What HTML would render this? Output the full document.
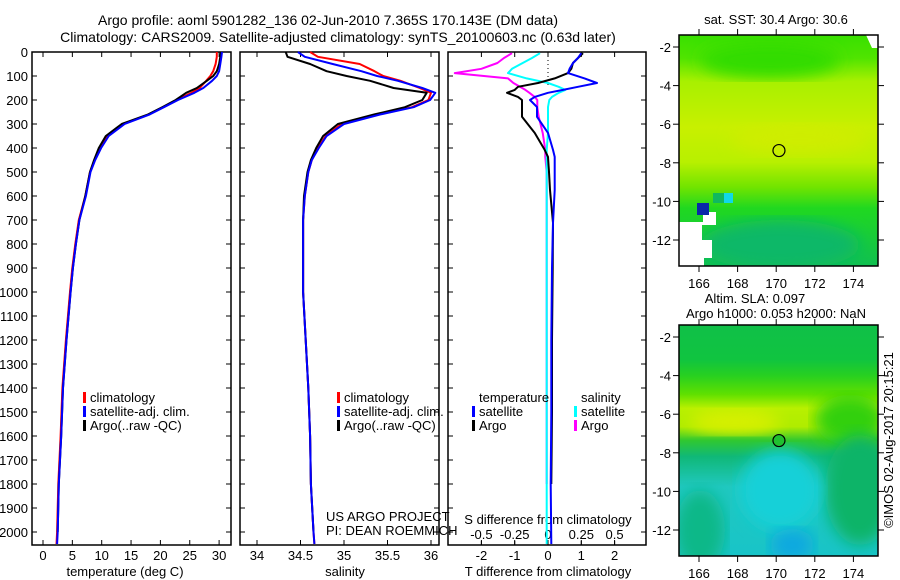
<!DOCTYPE html>
<html><head><meta charset="utf-8"><style>
html,body{margin:0;padding:0;background:#fff;}
svg{display:block;font-family:"Liberation Sans",sans-serif;}
</style></head><body>
<svg id="fig" width="900" height="580" viewBox="0 0 900 580">
<defs>
<linearGradient id="sstG" x1="0" y1="0" x2="0" y2="1">
<stop offset="0" stop-color="#38e000"/><stop offset="0.1" stop-color="#50e400"/>
<stop offset="0.2" stop-color="#a8f000"/><stop offset="0.4" stop-color="#c8f000"/>
<stop offset="0.55" stop-color="#b8f000"/><stop offset="0.66" stop-color="#70e400"/>
<stop offset="0.75" stop-color="#20d820"/><stop offset="1" stop-color="#10c050"/>
</linearGradient>
<linearGradient id="slaG" x1="0" y1="0" x2="0" y2="1">
<stop offset="0" stop-color="#10c048"/><stop offset="0.15" stop-color="#10c440"/>
<stop offset="0.22" stop-color="#28d020"/><stop offset="0.3" stop-color="#60e000"/>
<stop offset="0.36" stop-color="#b8f000"/><stop offset="0.44" stop-color="#b0ec00"/>
<stop offset="0.5" stop-color="#30c830"/><stop offset="0.57" stop-color="#10b878"/>
<stop offset="0.7" stop-color="#20c8c0"/><stop offset="1" stop-color="#18c4c8"/>
</linearGradient>
<filter id="blur6"><feGaussianBlur stdDeviation="8"/></filter>
<clipPath id="m1clip"><rect x="679" y="35" width="199" height="231"/></clipPath>
<clipPath id="m2clip"><rect x="679" y="325" width="199" height="231"/></clipPath>
</defs>
<g id="layer"></g>
</svg>
<script>
// ---- profile data (depth in m) ----
const depths   = [0,20,50,80,100,120,150,170,200,230,260,300,350,400,450,500,600,700,800,900,1000,1200,1400,1600,1800,2000,2050];
const tempClim = [29.6,29.6,29.4,29.0,28.5,27.8,26.7,25.3,22.8,20.5,18.0,13.7,11.0,9.7,8.8,8.0,7.2,6.1,5.5,5.0,4.6,3.9,3.3,3.0,2.6,2.4,2.3];
const tempSat  = [30.5,30.4,30.2,30.0,29.6,28.8,27.3,25.8,23.0,20.6,18.2,13.9,11.2,9.9,8.9,8.1,7.3,6.2,5.6,5.1,4.7,4.0,3.4,3.1,2.7,2.5,2.4];
const tempArgo = [30.3,30.2,30.0,29.6,29.0,27.9,26.2,24.4,22.6,20.3,17.9,13.4,10.7,9.5,8.7,8.0,7.2,6.2,5.6,5.1,4.7,4.0,3.4,3.1,2.7,2.5,null];
const salClim  = [34.61,34.70,35.18,35.35,35.45,35.65,35.87,36.00,35.97,35.78,35.40,34.97,34.79,34.70,34.63,34.59,34.55,34.53,34.53,34.53,34.53,34.56,34.59,34.61,34.62,34.65,34.66];
const salSat   = [34.47,34.55,34.87,35.20,35.38,35.62,35.90,36.05,35.99,35.80,35.42,35.00,34.80,34.71,34.63,34.59,34.55,34.53,34.53,34.53,34.53,34.56,34.59,34.61,34.62,34.65,34.66];
const salArgo  = [34.33,34.35,34.61,34.80,35.03,35.30,35.57,35.95,35.90,35.70,35.35,34.93,34.76,34.68,34.62,34.58,34.54,34.53,34.53,34.53,34.53,34.56,34.59,34.61,34.62,34.65,null];
// ---- difference data ----
const diffDepths = [5,25,46,70,88,110,129,145,158,170,187,200,229,270,337,408,437,500,575,712,900,1200,1500,1800,2050];
const dTSat  = [1.0,0.9,0.75,0.65,0.6,1.1,1.47,0.9,0.45,0.0,-0.4,-0.54,-0.33,-0.33,0.0,0.15,0.2,0.2,0.2,0.15,0.12,0.1,0.1,0.08,0.1];
const dTArgo = [1.05,0.9,0.75,0.7,0.6,0.2,-0.3,-0.9,-1.0,-1.23,-0.9,-0.78,-0.78,-0.78,-0.4,-0.1,0.0,0.03,0.06,0.15,0.14,0.12,0.12,0.1,null];
const dSSat  = [-0.06,-0.12,-0.19,-0.27,-0.3,-0.16,0.0,0.08,0.13,0.08,0.03,0.01,0.0,0.0,0.0,-0.01,-0.01,-0.01,-0.01,-0.01,-0.01,-0.01,-0.01,-0.01,-0.01];
const dSArgo = [-0.27,-0.33,-0.38,-0.5,-0.7,-0.3,-0.26,-0.21,-0.17,-0.14,-0.1,-0.08,-0.08,-0.07,-0.04,-0.02,-0.02,-0.01,-0.01,-0.01,-0.01,-0.01,-0.01,-0.01,null];
// ---- ticks ----
const depthTicks = [0,100,200,300,400,500,600,700,800,900,1000,1100,1200,1300,1400,1500,1600,1700,1800,1900,2000];
const tempTicks = [0,5,10,15,20,25,30];
const salTicks = [34,34.5,35,35.5,36];
const dTTicks = [-2,-1,0,1,2];
const dSTicks = [-0.5,-0.25,0,0.25,0.5];
const dSTickLabels = ["-0.5","-0.25","0","0.25","0.5"];
const latTicks = [-2,-4,-6,-8,-10,-12];
const lonTicks = [166,168,170,172,174];
const argoLon = 170.143, argoLat = -7.365;

const NS='http://www.w3.org/2000/svg';
const L=document.getElementById('layer');
function mk(tag,attrs,parent){const e=document.createElementNS(NS,tag);for(const k in attrs)e.setAttribute(k,attrs[k]);(parent||L).appendChild(e);return e;}
function txt(x,y,s,size,anchor,parent){const t=mk('text',{x:x,y:y,'font-size':size||12,'text-anchor':anchor||'start',fill:'#000'},parent);t.textContent=s;return t;}

const PT=52, PB=545;
const yD = d => 52 + d*0.24;
const xT = v => 43 + (v-0)*5.87;
const xS = v => 257 + (v-34)*87;
const xDT = v => 548 + v*33.3;
const xDS = v => 548 + v*133.2;

function panel(x0,x1,name){
  const r=mk('rect',{x:x0,y:PT,width:x1-x0,height:PB-PT,fill:'none',stroke:'#000','stroke-width':1.5});
  
  
  const g=mk('g',{});
  
  
  depthTicks.forEach(d=>{
    mk('line',{x1:x0,x2:x0+5,y1:yD(d),y2:yD(d),stroke:'#000'},g);
    mk('line',{x1:x1-5,x2:x1,y1:yD(d),y2:yD(d),stroke:'#000'},g);
  });
}
function xticks(vals,fx,labels,ly,name){
  const g=mk('g',{});
  
  
  vals.forEach((v,i)=>{
    mk('line',{x1:fx(v),x2:fx(v),y1:PB,y2:PB-5,stroke:'#000'},g);
    mk('line',{x1:fx(v),x2:fx(v),y1:PT,y2:PT+5,stroke:'#000'},g);
    if(ly) txt(fx(v),ly,labels?labels[i]:String(v),13,'middle',g);
  });
}
function series(vals,dArr,fx,color,name,w){
  let pts=[];
  vals.forEach((v,i)=>{ if(v!==null) pts.push(fx(v).toFixed(1)+','+yD(dArr[i]).toFixed(1)); });
  const p=mk('polyline',{points:pts.join(' '),fill:'none',stroke:color,'stroke-width':w||2,'stroke-linejoin':'round'});
  
  
}

// titles
const t1=txt(328,25,'Argo profile: aoml 5901282_136 02-Jun-2010 7.365S 170.143E (DM data)',14,'middle');


const t2=txt(338,42,'Climatology: CARS2009. Satellite-adjusted climatology: synTS_20100603.nc (0.63d later)',14,'middle');



// panel 1
panel(32,231,'temperature-panel');
const yl=mk('g',{});


depthTicks.forEach(d=>txt(28,yD(d)+5,String(d),13,'end',yl));
xticks(tempTicks,xT,null,560,'temperature-x-ticks');
const xl1=txt(125,576,'temperature (deg C)',13,'middle');


series(tempClim,depths,xT,'#ff0000','temp-climatology-line');
series(tempArgo,depths,xT,'#000000','temp-argo-line');
series(tempSat,depths,xT,'#0000ff','temp-satellite-line');

// panel 2
panel(240,439,'salinity-panel');
xticks(salTicks,xS,null,560,'salinity-x-ticks');
const xl2=txt(345,576,'salinity',13,'middle');


series(salClim,depths,xS,'#ff0000','sal-climatology-line');
series(salArgo,depths,xS,'#000000','sal-argo-line');
series(salSat,depths,xS,'#0000ff','sal-satellite-line');

// legends
function legend(x,y,entries,name){
  const g=mk('g',{});
  
  
  entries.forEach((e,i)=>{
    if(e[1]) mk('rect',{x:x,y:y+i*14-10,width:3,height:11,fill:e[1]},g);
    txt(x+7,y+i*14,e[0],13,'start',g);
  });
}
legend(83,402,[['climatology','#ff0000'],['satellite-adj. clim.','#0000ff'],['Argo(..raw -QC)','#000000']],'temperature-legend');
legend(337,402,[['climatology','#ff0000'],['satellite-adj. clim.','#0000ff'],['Argo(..raw -QC)','#000000']],'salinity-legend');
const us=txt(326,521,'US ARGO PROJECT',13,'start');


const pi=txt(326,535,'PI: DEAN ROEMMICH',13,'start');



// panel 3
panel(448,646,'difference-panel');
xticks(dTTicks,xDT,null,560,'t-diff-x-ticks');
const sg=mk('g',{});


dSTicks.forEach((v,i)=>{ txt(xDS(v),539,dSTickLabels[i],13,'middle',sg); mk('line',{x1:xDS(v),x2:xDS(v),y1:PB,y2:PB-4,stroke:'#000'},sg); });
const sd=txt(548,524,'S difference from climatology',13,'middle');


const td=txt(548,576,'T difference from climatology',13,'middle');


const zl=mk('line',{x1:548,x2:548,y1:PT,y2:yD(150),stroke:'#000','stroke-dasharray':'1,3'});


series(dSArgo,diffDepths,xDS,'#ff00ff','s-diff-argo-line');
series(dSSat,diffDepths,xDS,'#00ffff','s-diff-satellite-line');
series(dTArgo,diffDepths,xDT,'#000000','t-diff-argo-line');
series(dTSat,diffDepths,xDT,'#0000ff','t-diff-satellite-line');
legend(472,402,[['temperature',null],['satellite','#0000ff'],['Argo','#000000']],'t-diff-legend');
legend(574,402,[['salinity',null],['satellite','#00ffff'],['Argo','#ff00ff']],'s-diff-legend');

// maps
const mLon = v => 699 + (v-166)*19.3;
function mapAxes(top,name){
  const mLat = v => top+12 + (-2 - v)*19.3;
  const g=mk('g',{});
  
  
  mk('rect',{x:679,y:top,width:199,height:231,fill:'none',stroke:'#000','stroke-width':1.5},g);
  latTicks.forEach(v=>{
    const y=mLat(v);
    mk('line',{x1:673,x2:679,y1:y,y2:y,stroke:'#000'},g);
    mk('line',{x1:878,x2:884,y1:y,y2:y,stroke:'#000'},g);
    txt(671,y+5,String(v),13,'end',g);
  });
  lonTicks.forEach(v=>{
    const x=mLon(v);
    mk('line',{x1:x,x2:x,y1:top+231,y2:top+237,stroke:'#000'},g);
    mk('line',{x1:x,x2:x,y1:top-6,y2:top,stroke:'#000'},g);
    txt(x,top+253,String(v),13,'middle',g);
  });
  return mLat;
}
// map 1 (SST)
const m1=mk('g',{'clip-path':'url(#m1clip)'});


mk('rect',{x:679,y:35,width:199,height:231,fill:'url(#sstG)'},m1);
mk('ellipse',{cx:770,cy:60,rx:70,ry:18,fill:'#30dc00',filter:'url(#blur6)'},m1);
mk('ellipse',{cx:780,cy:245,rx:80,ry:25,fill:'#10b868',filter:'url(#blur6)'},m1);
mk('ellipse',{cx:800,cy:140,rx:70,ry:15,fill:'#d4ec00',filter:'url(#blur6)','opacity':0.7},m1);
mk('path',{d:'M679 222 L703 222 L703 212 L716 212 L716 225 L702 225 L702 240 L712 240 L712 258 L704 258 L704 266 L679 266 Z',fill:'#fff'},m1);
mk('rect',{x:679,y:225,width:14,height:15,fill:'#fff'},m1);
mk('rect',{x:697,y:203,width:12,height:12,fill:'#0a28a8'},m1);
mk('rect',{x:724,y:193,width:9,height:10,fill:'#10d8e8'},m1);
mk('rect',{x:713,y:193,width:11,height:10,fill:'#10b860'},m1);
mk('path',{d:'M866 35 L878 35 L878 48 L872 48 Z',fill:'#fff'},m1);
const lat1=mapAxes(35,'sst-map');
const c1=mk('circle',{cx:mLon(argoLon),cy:lat1(argoLat),r:6,fill:'none',stroke:'#000','stroke-width':1.2});


const mt1=txt(776,24,'sat. SST: 30.4 Argo: 30.6',13,'middle');



// map 2 (SLA)
const m2=mk('g',{'clip-path':'url(#m2clip)'});


mk('rect',{x:679,y:325,width:199,height:231,fill:'url(#slaG)'},m2);
mk('ellipse',{cx:735,cy:422,rx:45,ry:12,fill:'#d8f000',filter:'url(#blur6)'},m2);
mk('ellipse',{cx:850,cy:420,rx:35,ry:25,fill:'#30d010',filter:'url(#blur6)'},m2);
mk('ellipse',{cx:860,cy:490,rx:35,ry:55,fill:'#10b468',filter:'url(#blur6)'},m2);
mk('ellipse',{cx:780,cy:490,rx:40,ry:40,fill:'#18d0d8',filter:'url(#blur6)'},m2);
mk('ellipse',{cx:792,cy:545,rx:22,ry:16,fill:'#10a8e0',filter:'url(#blur6)'},m2);
mk('ellipse',{cx:700,cy:530,rx:25,ry:40,fill:'#10b888',filter:'url(#blur6)'},m2);
const lat2=mapAxes(325,'sla-map');
const c2=mk('circle',{cx:mLon(argoLon),cy:lat2(argoLat),r:6,fill:'#20c030',stroke:'#000','stroke-width':1.2});


const mt2=txt(755,303,'Altim. SLA: 0.097',13,'middle');


const mt3=txt(776,318,'Argo h1000: 0.053 h2000: NaN',13,'middle');



const cr=txt(0,0,'©IMOS 02-Aug-2017 20:15:21',13,'middle');
cr.setAttribute('transform','translate(893,440) rotate(-90)');


</script>
</body></html>
